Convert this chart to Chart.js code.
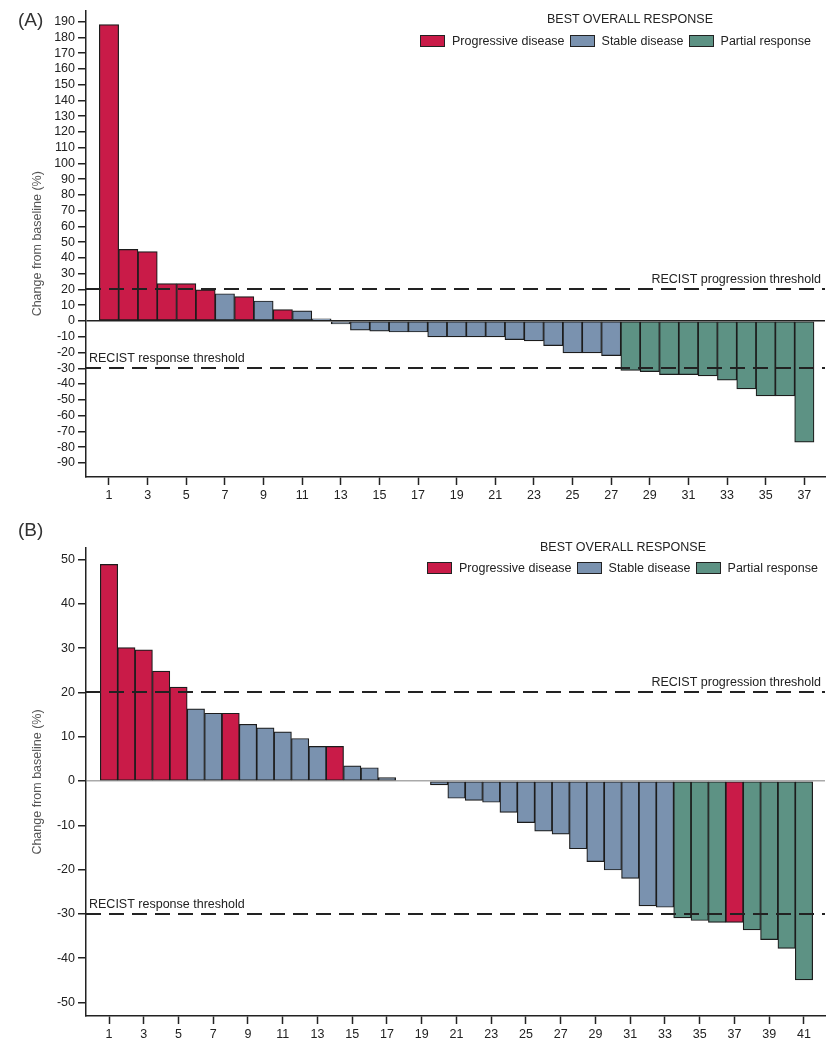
<!DOCTYPE html>
<html>
<head>
<meta charset="utf-8">
<script src="https://cdn.jsdelivr.net/npm/chart.js@4.4.1/dist/chart.umd.min.js"></script>
<style>
  html, body { margin: 0; padding: 0; background: #fff; }
  body { width: 831px; height: 1050px; position: relative; overflow: hidden;
         font-family: "Liberation Sans", Arial, sans-serif; color: #222; }
  .wrap { position: absolute; left: 0; width: 831px; }
  .lbl { position: absolute; white-space: nowrap; line-height: 1; }
  .panel { font-size: 19px; color: #333; }
  .ltitle { font-size: 12.5px; }
</style>
</head>
<body>
<div class="wrap" style="top:0;height:510px"><canvas id="chartA" width="831" height="510"></canvas></div>
<div class="wrap" style="top:510px;height:540px"><canvas id="chartB" width="831" height="540"></canvas></div>
<div class="lbl panel" style="left:18px;top:10px">(A)</div>
<div class="lbl panel" style="left:18px;top:520px">(B)</div>
<div id="legendA"></div>
<div id="legendB"></div>

<script>
// ---------- DATA ----------
const legendTitle = 'BEST OVERALL RESPONSE';
const responseKeys = ['PD', 'SD', 'PR'];
const legendLabels = ['Progressive disease', 'Stable disease', 'Partial response'];
const responseColors = ['#C91B48', '#7A92AF', '#5D9284'];
const yAxisTitle = 'Change from baseline (%)';
const thresholdValues = [20, -30];
const thresholdLabels = ['RECIST progression threshold', 'RECIST response threshold'];

// Panel A
const patientsA = [1,2,3,4,5,6,7,8,9,10,11,12,13,14,15,16,17,18,19,20,21,22,23,24,25,26,27,28,29,30,31,32,33,34,35,36,37];
const valuesA = [188, 45.4, 44, 23.7, 23.7, 19.7, 17.3, 15.4, 12.7, 7.2, 6.4, 1.3, -1.9, -5.8, -6.5, -7.0, -7.0,
                 -10.1, -10.1, -10.1, -10.1, -11.8, -12.7, -15.6, -20.3, -20.3, -22.0,
                 -31.3, -32.1, -34.0, -34.0, -34.9, -37.6, -43.1, -47.5, -47.5, -76.9];
const responsesA = ['PD','PD','PD','PD','PD','PD','SD','PD','SD','PD','SD','SD','SD','SD','SD','SD','SD',
                    'SD','SD','SD','SD','SD','SD','SD','SD','SD','SD',
                    'PR','PR','PR','PR','PR','PR','PR','PR','PR','PR'];
const xTicksA = [1,3,5,7,9,11,13,15,17,19,21,23,25,27,29,31,33,35,37];

// Panel B
const patientsB = [1,2,3,4,5,6,7,8,9,10,11,12,13,14,15,16,17,18,19,20,21,22,23,24,25,26,27,28,29,30,31,32,33,34,35,36,37,38,39,40,41];
const valuesB = [48.9, 30.1, 29.6, 24.8, 21.2, 16.3, 15.3, 15.3, 12.8, 12.0, 11.1, 9.6, 7.8, 7.8, 3.4, 3.0, 0.75,
                 null, null, -0.9, -3.9, -4.4, -4.8, -7.1, -9.4, -11.3, -12.0, -15.3, -18.2, -20.1, -22.0,
                 -28.2, -28.5, -30.9, -31.5, -31.9, -31.9, -33.6, -35.8, -37.8, -44.9];
const responsesB = ['PD','PD','PD','PD','PD','SD','SD','PD','SD','SD','SD','SD','SD','PD','SD','SD','SD',
                    'SD','SD','SD','SD','SD','SD','SD','SD','SD','SD','SD','SD','SD','SD',
                    'SD','SD','PR','PR','PR','PD','PR','PR','PR','PR'];
const xTicksB = [1,3,5,7,9,11,13,15,17,19,21,23,25,27,29,31,33,35,37,39,41];

// ---------- DRAWING ----------
const FONT = { family: '"Liberation Sans", Arial, sans-serif', size: 12.5 };
const TEXT = '#222';

const thresholdPlugin = {
  id: 'thresholds',
  afterDatasetsDraw(chart) {
    const { ctx, chartArea: { left, right }, scales: { y } } = chart;
    ctx.save();
    ctx.strokeStyle = '#222';
    ctx.lineWidth = 1.8;
    ctx.setLineDash([15, 8]);
    thresholdValues.forEach(v => {
      const py = Math.round(y.getPixelForValue(v));
      ctx.beginPath(); ctx.moveTo(left, py); ctx.lineTo(right, py); ctx.stroke();
    });
    ctx.setLineDash([]);
    ctx.fillStyle = TEXT;
    ctx.font = '12.5px "Liberation Sans", Arial, sans-serif';
    ctx.textBaseline = 'alphabetic';
    thresholdValues.forEach((v, i) => {
      const py = y.getPixelForValue(v);
      if (i === 0) { ctx.textAlign = 'right'; ctx.fillText(thresholdLabels[i], right - 4, py - 6); }
      else { ctx.textAlign = 'left'; ctx.fillText(thresholdLabels[i], left + 3, py - 6); }
    });
    ctx.restore();
  }
};

function makeChart(id, cfg) {
  const datasets = responseKeys.map((k, i) => ({
    label: legendLabels[i],
    data: cfg.patients
      .map((p, j) => (cfg.responses[j] === k && cfg.values[j] !== null) ? { x: p, y: cfg.values[j] } : null)
      .filter(Boolean),
    backgroundColor: responseColors[i],
    borderColor: '#1c1c1c',
    borderWidth: 1.2,
    borderSkipped: false,
    grouped: false,
    barPercentage: 1,
    categoryPercentage: 1
  }));
  return new Chart(document.getElementById(id), {
    type: 'bar',
    data: { datasets },
    options: {
      responsive: false,
      animation: false,
      layout: { padding: { left: 0, right: 6, top: cfg.padTop, bottom: 0 } },
      plugins: { legend: { display: false }, tooltip: { enabled: false } },
      scales: {
        x: {
          type: 'linear', offset: false,
          min: cfg.xMin, max: cfg.xMax,
          afterBuildTicks: s => { s.ticks = cfg.xTicks.map(v => ({ value: v })); },
          afterFit: s => { s.height = cfg.xAxisH; },
          grid: { display: true, offset: false, drawOnChartArea: false, drawTicks: true, tickLength: 8, tickWidth: 1.5, tickColor: '#222' },
          border: { display: true, color: '#222', width: 1.5 },
          ticks: { font: FONT, color: TEXT, padding: 3, autoSkip: false, maxRotation: 0 }
        },
        y: {
          min: cfg.yMin, max: cfg.yMax,
          afterFit: s => { s.width = 86; },
          ticks: { stepSize: 10, includeBounds: false, autoSkip: false, font: FONT, color: TEXT, padding: 3 },
          grid: {
            color: c => (c.tick && c.tick.value === 0) ? cfg.zeroColor : 'rgba(0,0,0,0)',
            lineWidth: 1.5, drawTicks: true, tickLength: 8, tickWidth: 1.5, tickColor: '#222'
          },
          border: { display: true, color: '#222', width: 1.5 },
          title: { display: true, text: yAxisTitle, color: '#555',
                   font: { family: FONT.family, size: 12.5 }, padding: { top: 30, bottom: 0 } }
        }
      }
    },
    plugins: [thresholdPlugin]
  });
}

function buildLegend(el, L) {
  const t = document.createElement('div');
  t.className = 'lbl ltitle';
  t.textContent = legendTitle;
  t.style.left = L.tx + 'px';
  t.style.top = (L.ty - 7) + 'px';
  t.style.transform = 'translateX(-50%)';
  el.appendChild(t);
  const row = document.createElement('div');
  row.style.cssText = `position:absolute;left:${L.rx}px;top:${L.ry - 7}px;display:flex;align-items:center;height:14px;font-size:12.5px;line-height:14px;white-space:nowrap;color:#222`;
  legendLabels.forEach((lab, i) => {
    const b = document.createElement('span');
    b.style.cssText = `display:inline-block;width:23px;height:10px;border:1px solid #222;background:${responseColors[i]};margin-right:7px`;
    const s = document.createElement('span');
    s.textContent = lab;
    s.style.marginRight = '5px';
    row.appendChild(b); row.appendChild(s);
  });
  el.appendChild(row);
}

makeChart('chartA', { patients: patientsA, values: valuesA, responses: responsesA, xTicks: xTicksA,
  xMin: -0.19, xMax: 38.07, yMin: -99, yMax: 197, padTop: 10, xAxisH: 33, zeroColor: '#222' });
makeChart('chartB', { patients: patientsB, values: valuesB, responses: responsesB, xTicks: xTicksB,
  xMin: -0.324, xMax: 42.21, yMin: -53.05, yMax: 52.6, padTop: 38, xAxisH: 34, zeroColor: '#aaa' });

buildLegend(document.getElementById('legendA'), { tx: 630, ty: 20, rx: 420, ry: 41 });
buildLegend(document.getElementById('legendB'), { tx: 623, ty: 548, rx: 427, ry: 568 });
</script>
</body>
</html>
